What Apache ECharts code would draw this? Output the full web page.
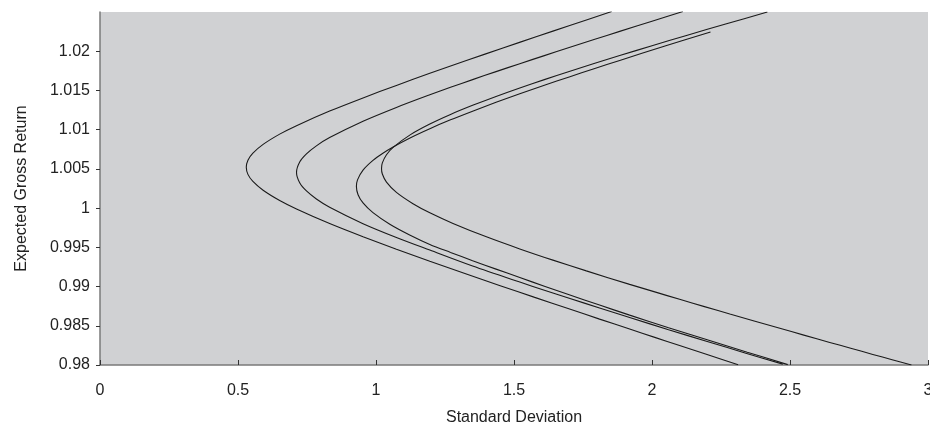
<!DOCTYPE html>
<html>
<head>
<meta charset="utf-8">
<script src="https://cdn.jsdelivr.net/npm/echarts@6/dist/echarts.min.js"></script>
<style>
  html, body { margin: 0; padding: 0; background: #ffffff; }
  #chart { width: 930px; height: 423px; }
</style>
</head>
<body>
<div id="chart"></div>
<script>
// Tick values / labels
const xTicks = [0, 0.5, 1, 1.5, 2, 2.5, 3];
const yTicks = [0.98, 0.985, 0.99, 0.995, 1, 1.005, 1.01, 1.015, 1.02];
const yTickLabels = ['0.98', '0.985', '0.99', '0.995', '1', '1.005', '1.01', '1.015', '1.02'];

// Curve A (leftmost frontier): [std dev, expected gross return]
const curveA = [
  [1.854, 1.02506], [1.702, 1.02328], [1.580, 1.02184], [1.460, 1.02041], [1.330, 1.01884],
  [1.195, 1.01718], [1.074, 1.01564], [0.953, 1.01405], [0.832, 1.01237], [0.712, 1.01051],
  [0.651, 1.00943], [0.591, 1.00812], [0.554, 1.00700], [0.536, 1.00610], [0.530, 1.00520],
  [0.536, 1.00430], [0.554, 1.00340], [0.591, 1.00228], [0.651, 1.00097], [0.712, 0.99989],
  [0.832, 0.99803], [0.953, 0.99635], [1.074, 0.99476], [1.195, 0.99323], [1.330, 0.99156],
  [1.450, 0.99011], [1.575, 0.98862], [1.696, 0.98720], [1.810, 0.98585], [1.919, 0.98458],
  [2.010, 0.98352], [2.100, 0.98248], [2.205, 0.98127], [2.312, 0.98004]
];
// Curve B
const curveB = [
  [2.112, 1.02506], [2.000, 1.02383], [1.883, 1.02253], [1.790, 1.02149], [1.700, 1.02047],
  [1.610, 1.01944], [1.521, 1.01841], [1.435, 1.01740], [1.350, 1.01638], [1.270, 1.01540],
  [1.195, 1.01445], [1.074, 1.01284], [0.953, 1.01108], [0.832, 1.00899], [0.784, 1.00794],
  [0.748, 1.00692], [0.724, 1.00590], [0.712, 1.00455], [0.724, 1.00320], [0.748, 1.00219],
  [0.784, 1.00117], [0.832, 1.00011], [0.953, 0.99802], [1.074, 0.99626], [1.195, 0.99465],
  [1.350, 0.99262], [1.521, 0.99057], [1.610, 0.98954], [1.700, 0.98851], [1.810, 0.98727],
  [1.919, 0.98605], [2.060, 0.98450], [2.200, 0.98300], [2.340, 0.98151], [2.474, 0.98011]
];
// Curve C (ends short at the top)
const curveC = [
  [2.212, 1.02245], [2.050, 1.02069], [1.883, 1.01883], [1.790, 1.01777], [1.700, 1.01672],
  [1.610, 1.01566], [1.521, 1.01457], [1.435, 1.01349], [1.350, 1.01236], [1.270, 1.01125],
  [1.195, 1.01013], [1.125, 1.00898], [1.062, 1.00780], [1.025, 1.00700], [0.989, 1.00608],
  [0.953, 1.00484], [0.933, 1.00360], [0.929, 1.00275], [0.935, 1.00171], [0.953, 1.00066],
  [0.989, 0.99942], [1.050, 0.99795], [1.122, 0.99658], [1.195, 0.99537], [1.270, 0.99435],
  [1.350, 0.99330], [1.435, 0.99222], [1.521, 0.99115], [1.610, 0.99005], [1.700, 0.98896],
  [1.810, 0.98764], [1.919, 0.98636], [2.060, 0.98476], [2.200, 0.98322], [2.345, 0.98163],
  [2.492, 0.98005]
];
// Curve D (rightmost frontier)
const curveD = [
  [2.418, 1.02499], [2.270, 1.02350], [2.125, 1.02201], [2.000, 1.02070], [1.883, 1.01945],
  [1.790, 1.01843], [1.700, 1.01742], [1.610, 1.01638], [1.521, 1.01532], [1.435, 1.01424],
  [1.350, 1.01310], [1.270, 1.01194], [1.195, 1.01072], [1.125, 1.00937], [1.062, 1.00775],
  [1.038, 1.00681], [1.023, 1.00577], [1.020, 1.00506], [1.023, 1.00435], [1.038, 1.00331],
  [1.074, 1.00200], [1.134, 1.00056], [1.195, 0.99940], [1.279, 0.99805], [1.400, 0.99634],
  [1.521, 0.99480], [1.641, 0.99337], [1.762, 0.99200], [1.919, 0.99028], [2.010, 0.98932],
  [2.100, 0.98837], [2.190, 0.98744], [2.282, 0.98650], [2.370, 0.98561], [2.460, 0.98471],
  [2.550, 0.98381], [2.644, 0.98288], [2.720, 0.98214], [2.800, 0.98135], [2.870, 0.98067],
  [2.940, 0.97999]
];

const curves = [curveA, curveB, curveC, curveD];

const chart = echarts.init(document.getElementById('chart'), null, { renderer: 'canvas' });
const fontFamily = '"Liberation Sans", Arial, sans-serif';

chart.setOption({
  animation: false,
  backgroundColor: '#ffffff',
  grid: {
    left: 100, right: 2, top: 12, bottom: 58,
    containLabel: false, outerBoundsMode: 'none',
    show: true, backgroundColor: '#d0d1d3', borderWidth: 0
  },
  xAxis: {
    type: 'value',
    min: xTicks[0], max: xTicks[xTicks.length - 1], interval: 0.5,
    name: 'Standard Deviation',
    nameLocation: 'middle', nameGap: 45,
    nameTextStyle: { fontFamily, fontSize: 16, color: '#222' },
    axisLine: { show: true, onZero: false, lineStyle: { color: '#7a7a7a', width: 1.5 } },
    axisTick: { show: true, inside: true, length: 5, lineStyle: { color: '#333', width: 1 } },
    axisLabel: { fontFamily, fontSize: 16, color: '#222', margin: 18, hideOverlap: false },
    splitLine: { show: false }
  },
  yAxis: {
    type: 'value',
    min: 0.98, max: 1.025,
    name: 'Expected Gross Return',
    nameLocation: 'middle', nameGap: 70,
    nameTextStyle: { fontFamily, fontSize: 16, color: '#222' },
    axisLine: { show: true, onZero: false, lineStyle: { color: '#7a7a7a', width: 1.5 } },
    axisTick: { show: true, inside: false, length: 4, customValues: yTicks, lineStyle: { color: '#333', width: 1 } },
    axisLabel: {
      fontFamily, fontSize: 16, color: '#222', margin: 10,
      customValues: yTicks,
      formatter: function (v) {
        for (let i = 0; i < yTicks.length; i++) {
          if (Math.abs(yTicks[i] - v) < 1e-9) return yTickLabels[i];
        }
        return '';
      }
    },
    splitLine: { show: false }
  },
  series: curves.map(function (c) {
    return {
      type: 'line',
      data: c,
      showSymbol: false,
      smooth: 0.3,
      lineStyle: { color: '#1a1a1a', width: 1.1 },
      silent: true
    };
  })
});
</script>
</body>
</html>
